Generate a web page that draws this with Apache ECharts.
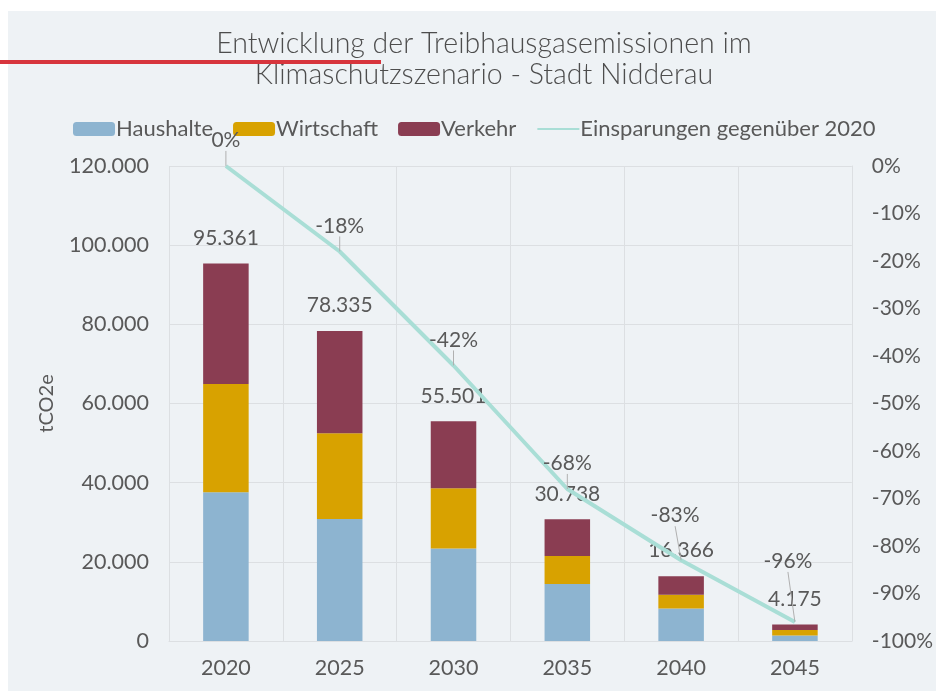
<!DOCTYPE html>
<html>
<head>
<meta charset="utf-8">
<script src="https://cdn.jsdelivr.net/npm/echarts@6/dist/echarts.min.js"></script>
<style>
  html, body { margin: 0; padding: 0; background: #ffffff; }
  #chart { width: 936px; height: 691px; }
</style>
</head>
<body>
<div id="chart"></div>
<script>
// Jahre und Emissionen je Sektor (tCO2e)
const years = ['2020', '2025', '2030', '2035', '2040', '2045'];
const haushalte = [37600, 30800, 23400, 14400, 8200, 1400];
const wirtschaft = [27300, 21700, 15200, 7100, 3500, 1400];
const verkehr = [30461, 25835, 16901, 9238, 4666, 1375];
// Einsparungen gegenüber 2020 in Prozent
const einsparungen = [0, -18, -42, -68, -83, -96];
// Achsenbeschriftungen
const leftTicks = [0, 20000, 40000, 60000, 80000, 100000, 120000];
const rightTicks = [-100, -90, -80, -70, -60, -50, -40, -30, -20, -10, 0];

const FONT = 'Lato';
const TEXT = '#595959';
const GRID = '#dcdfe2';

function de(n) {
  return String(n).replace(/\B(?=(\d{3})+(?!\d))/g, '.');
}

const chart = echarts.init(document.getElementById('chart'));

chart.setOption({
  backgroundColor: '#ffffff',
  textStyle: { fontFamily: FONT, color: TEXT },
  graphic: [
    { type: 'rect', z: -10, shape: { x: 8, y: 11, width: 928, height: 680 }, style: { fill: '#eef2f5' } },
    { type: 'rect', z: 10, shape: { x: 0, y: 60, width: 381, height: 4 }, style: { fill: '#d7353d' } }
  ],
  title: {
    text: 'Entwicklung der Treibhausgasemissionen im\nKlimaschutzszenario - Stadt Nidderau',
    left: 479,
    top: 23,
    textAlign: 'center',
    textStyle: { fontFamily: FONT, fontSize: 28.5, fontWeight: 300, color: '#4d4d4d', lineHeight: 31 }
  },
  legend: {
    top: 113,
    left: 68,
    itemWidth: 42,
    itemHeight: 14,
    itemGap: 20,
    textStyle: { fontFamily: FONT, fontSize: 22, color: TEXT, padding: [0, 0, 0, -4] },
    data: [
      'Haushalte', 'Wirtschaft', 'Verkehr',
      { name: 'Einsparungen gegenüber 2020', itemStyle: { opacity: 0 } }
    ]
  },
  grid: { left: 169, right: 83, top: 166, bottom: 50 },
  xAxis: {
    type: 'category',
    data: years,
    axisTick: { show: false },
    axisLine: { lineStyle: { color: GRID, width: 1 } },
    axisLabel: { fontSize: 21.5, color: TEXT, margin: 16, fontFamily: FONT },
    splitLine: { show: true, lineStyle: { color: GRID } }
  },
  yAxis: [
    {
      type: 'value',
      min: leftTicks[0],
      max: leftTicks[leftTicks.length - 1],
      interval: leftTicks[1] - leftTicks[0],
      name: 'tCO2e',
      nameLocation: 'middle',
      nameGap: 112,
      nameTextStyle: { fontSize: 20, color: TEXT, fontFamily: FONT },
      axisLabel: { fontSize: 21.5, color: TEXT, margin: 20, fontFamily: FONT, formatter: v => de(v) },
      axisLine: { show: false },
      axisTick: { show: false },
      splitLine: { show: true, lineStyle: { color: GRID } }
    },
    {
      type: 'value',
      min: rightTicks[0],
      max: rightTicks[rightTicks.length - 1],
      interval: rightTicks[1] - rightTicks[0],
      position: 'right',
      axisLabel: { fontSize: 21, color: TEXT, margin: 20, fontFamily: FONT, formatter: v => v + '%' },
      axisLine: { show: true, lineStyle: { color: GRID } },
      axisTick: { show: false },
      splitLine: { show: false }
    }
  ],
  series: [
    {
      name: 'Haushalte', type: 'bar', stack: 'e', barWidth: '40%',
      itemStyle: { color: '#8db4d0' },
      data: haushalte
    },
    {
      name: 'Wirtschaft', type: 'bar', stack: 'e',
      itemStyle: { color: '#d8a200' },
      data: wirtschaft
    },
    {
      name: 'Verkehr', type: 'bar', stack: 'e',
      itemStyle: { color: '#8a3d52' },
      label: {
        show: true,
        position: 'top',
        distance: 15,
        fontSize: 21,
        color: TEXT,
        fontFamily: FONT,
        formatter: p => de(haushalte[p.dataIndex] + wirtschaft[p.dataIndex] + verkehr[p.dataIndex])
      },
      data: verkehr
    },
    {
      name: 'Einsparungen gegenüber 2020', type: 'line', yAxisIndex: 1,
      symbol: 'circle', symbolSize: 0.1,
      lineStyle: { color: '#a9ded6', width: 4 },
      itemStyle: { color: '#a9ded6' },
      z: 5,
      label: {
        show: true,
        position: 'top',
        distance: 15,
        fontSize: 21,
        color: TEXT,
        fontFamily: FONT,
        formatter: p => p.value + '%'
      },
      labelLine: { show: true, lineStyle: { color: '#b0b0b0', width: 1 } },
      labelLayout: p => {
        if (p.dataIndex === 4) return { dx: -6, dy: -19 };
        if (p.dataIndex === 5) return { dx: -7, dy: -35 };
        return {};
      },
      data: einsparungen
    }
  ]
});
</script>
</body>
</html>
